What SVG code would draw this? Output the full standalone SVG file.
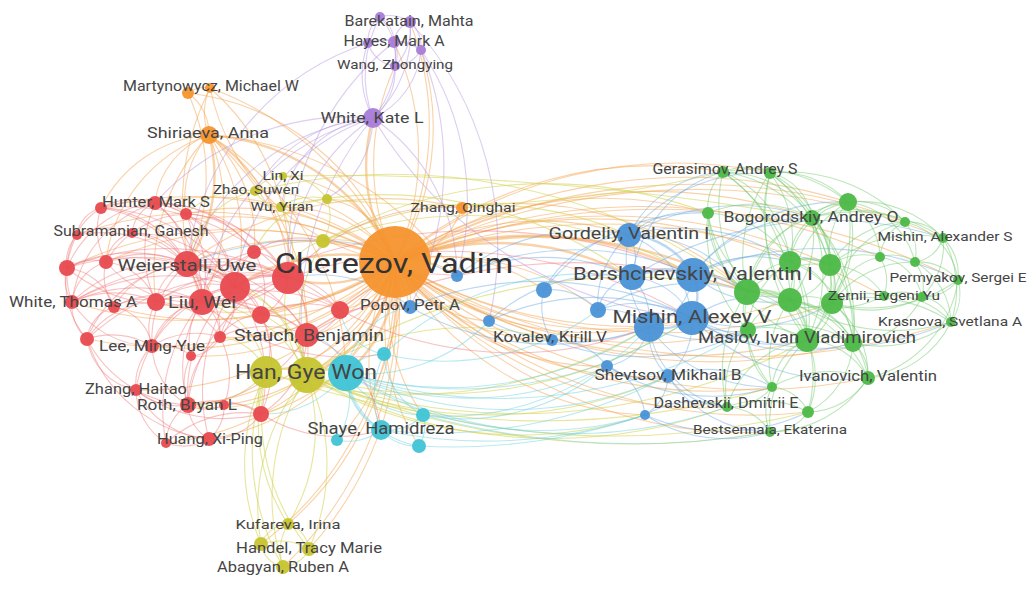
<svg xmlns="http://www.w3.org/2000/svg" width="1036" height="591" viewBox="0 0 1036 591">
<style>
path{fill:none;stroke-width:1.1}
.w{stroke-width:2.4}
.o{stroke:#f6a552;stroke-opacity:.5}
.r{stroke:#f07878;stroke-opacity:.45}
.g{stroke:#6cc868;stroke-opacity:.45}
.b{stroke:#6aa8e0;stroke-opacity:.45}
.y{stroke:#d2d24c;stroke-opacity:.55}
.p{stroke:#b99be3;stroke-opacity:.5}
.c{stroke:#66d0de;stroke-opacity:.45}
.nr{fill:#e84a4f}.ng{fill:#4cb947}.nb{fill:#4a92d6}.ny{fill:#c6c42f}.np{fill:#a87cd8}.nc{fill:#3fc4d6}.no{fill:#f5932e}
circle{fill-opacity:.95}
text{font-family:Roboto,"Liberation Sans",sans-serif;fill:#454545;text-anchor:middle}
#n-cherezov text{fill:#333}
</style>
<rect width="1036" height="591" fill="#fff"/>
<g id="connectors">
<path class="o w" d="M395 262A128 128 0 0 1 288 278"/>
<path class="o w" d="M395 262A192 192 0 0 0 235 287"/>
<path class="o" d="M395 262A250 250 0 0 0 187 264"/>
<path class="o" d="M395 262A232 232 0 0 1 202 302"/>
<path class="o" d="M395 262A169 169 0 0 0 254 252"/>
<path class="o" d="M395 262A161 161 0 0 1 261 315"/>
<path class="o" d="M395 262A66 66 0 0 1 340 310"/>
<path class="o" d="M395 262A106 106 0 0 1 307 335"/>
<path class="o" d="M395 262A287 287 0 0 1 156 302"/>
<path class="o" d="M395 262A347 347 0 0 0 106 262"/>
<path class="o" d="M395 262A288 288 0 0 0 155 203"/>
<path class="o" d="M395 262A251 251 0 0 0 186 214"/>
<path class="o" d="M395 262A353 353 0 0 0 101 208"/>
<path class="o" d="M395 262A394 394 0 0 0 67 268"/>
<path class="o" d="M395 262A388 388 0 0 1 72 302"/>
<path class="o" d="M395 262A292 292 0 0 1 152 346"/>
<path class="o" d="M395 262A248 248 0 0 1 188 405"/>
<path class="o" d="M395 262A182 182 0 0 1 261 414"/>
<path class="o" d="M395 262A223 223 0 0 1 209 439"/>
<path class="o" d="M395 262A311 311 0 0 1 136 390"/>
<path class="o" d="M395 262A370 370 0 0 1 87 339"/>
<path class="o" d="M395 262A337 337 0 0 1 114 307"/>
<path class="o" d="M395 262A210 210 0 0 1 220 337"/>
<path class="o" d="M395 262A316 316 0 0 0 132 233"/>
<path class="o" d="M395 262A382 382 0 0 0 77 235"/>
<path class="o" d="M395 262A245 245 0 0 1 191 356"/>
<path class="o" d="M395 262A205 205 0 0 1 224 405"/>
<path class="o" d="M395 262A275 275 0 0 1 166 443"/>
<path class="o w" d="M395 262A223 223 0 0 0 209 135"/>
<path class="o" d="M395 262A248 248 0 0 0 188 93"/>
<path class="o" d="M395 262A222 222 0 0 1 210 88"/>
<path class="o" d="M395 262A80 80 0 0 0 462 208"/>
<path class="o" d="M395 262A155 155 0 0 1 266 372"/>
<path class="o w" d="M395 262A136 136 0 0 1 307 375"/>
<path class="o" d="M395 262A314 314 0 0 1 288 524"/>
<path class="o" d="M395 262A338 338 0 0 1 261 544"/>
<path class="o" d="M395 262A344 344 0 0 1 309 549"/>
<path class="o" d="M395 262A366 366 0 0 1 283 567"/>
<path class="o" d="M395 262A168 168 0 0 0 255 191"/>
<path class="o" d="M395 262A137 137 0 0 0 281 207"/>
<path class="o" d="M395 262A134 134 0 0 0 283 176"/>
<path class="o" d="M395 262A82 82 0 0 0 327 199"/>
<path class="o" d="M395 262A86 86 0 0 0 323 241"/>
<path class="o w" d="M395 262A133 133 0 0 1 346 373"/>
<path class="o" d="M395 262A110 110 0 0 1 384 354"/>
<path class="o" d="M395 262A202 202 0 0 0 381 430"/>
<path class="o" d="M395 262A214 214 0 0 1 337 440"/>
<path class="o" d="M395 262A184 184 0 0 0 423 415"/>
<path class="o" d="M395 262A221 221 0 0 0 419 446"/>
<path class="o" d="M395 262A281 281 0 0 1 629 235"/>
<path class="o w" d="M395 262A284 284 0 0 1 632 277"/>
<path class="o w" d="M395 262A358 358 0 0 1 693 275"/>
<path class="o" d="M395 262A356 356 0 0 0 692 318"/>
<path class="o" d="M395 262A305 305 0 0 0 649 327"/>
<path class="o" d="M395 262A244 244 0 0 1 598 310"/>
<path class="o" d="M395 262A179 179 0 0 1 544 290"/>
<path class="o" d="M395 262A188 188 0 0 0 552 340"/>
<path class="o" d="M395 262A254 254 0 0 0 607 366"/>
<path class="o" d="M395 262A328 328 0 0 0 668 376"/>
<path class="o" d="M395 262A300 300 0 0 0 645 415"/>
<path class="o" d="M395 262A74 74 0 0 1 457 276"/>
<path class="o" d="M395 262A54 54 0 0 1 410 307"/>
<path class="o" d="M395 262A113 113 0 0 0 489 321"/>
<path class="o" d="M395 262A394 394 0 0 1 723 172"/>
<path class="o" d="M395 262A450 450 0 0 1 770 173"/>
<path class="o" d="M395 262A544 544 0 0 1 848 202"/>
<path class="o" d="M395 262A376 376 0 0 1 708 213"/>
<path class="o" d="M395 262A500 500 0 0 1 812 218"/>
<path class="o" d="M395 262A612 612 0 0 1 905 222"/>
<path class="o" d="M395 262A658 658 0 0 1 943 238"/>
<path class="o" d="M395 262A474 474 0 0 1 790 262"/>
<path class="o" d="M395 262A522 522 0 0 1 830 265"/>
<path class="o w" d="M395 262A422 422 0 0 1 747 292"/>
<path class="o" d="M395 262A474 474 0 0 0 790 300"/>
<path class="o" d="M395 262A524 524 0 0 0 832 303"/>
<path class="o" d="M395 262A676 676 0 0 1 958 280"/>
<path class="o" d="M395 262A667 667 0 0 0 951 322"/>
<path class="o" d="M395 262A424 424 0 0 0 748 330"/>
<path class="o" d="M395 262A494 494 0 0 0 807 340"/>
<path class="o" d="M395 262A550 550 0 0 0 853 343"/>
<path class="o" d="M395 262A568 568 0 0 0 868 378"/>
<path class="o" d="M395 262A452 452 0 0 0 772 387"/>
<path class="o" d="M395 262A398 398 0 0 0 727 407"/>
<path class="o" d="M395 262A496 496 0 0 0 808 412"/>
<path class="o" d="M395 262A450 450 0 0 0 770 432"/>
<path class="o" d="M395 262A587 587 0 0 1 884 296"/>
<path class="o" d="M395 262A582 582 0 0 1 880 257"/>
<path class="o w" d="M395 262A173 173 0 0 1 373 118"/>
<path class="o" d="M395 262A264 264 0 0 0 394 42"/>
<path class="o" d="M395 262A254 254 0 0 0 421 50"/>
<path class="o" d="M395 262A288 288 0 0 0 410 22"/>
<path class="o" d="M395 262A235 235 0 0 1 395 66"/>
<path class="o" d="M209 135A50 50 0 0 0 188 93"/>
<path class="o" d="M209 135A56 56 0 0 1 210 88"/>
<path class="o" d="M209 135A130 130 0 0 0 101 208"/>
<path class="o" d="M209 135A82 82 0 0 0 155 203"/>
<path class="o" d="M209 135A95 95 0 0 0 186 214"/>
<path class="o w" d="M209 135A155 155 0 0 1 187 264"/>
<path class="o" d="M209 135A182 182 0 0 1 235 287"/>
<path class="o" d="M209 135A172 172 0 0 1 288 278"/>
<path class="o" d="M209 135A200 200 0 0 1 202 302"/>
<path class="o" d="M209 135A200 200 0 0 0 156 302"/>
<path class="o" d="M209 135A152 152 0 0 0 106 262"/>
<path class="o" d="M209 135A140 140 0 0 1 254 252"/>
<path class="o" d="M209 135A240 240 0 0 1 307 335"/>
<path class="o" d="M209 135A288 288 0 0 1 307 375"/>
<path class="o" d="M209 135A286 286 0 0 1 346 373"/>
<path class="o" d="M209 135A330 330 0 0 1 457 276"/>
<path class="o" d="M188 93A30 30 0 0 1 210 88"/>
<path class="o" d="M188 93A205 205 0 0 1 187 264"/>
<path class="o" d="M210 88A228 228 0 0 1 288 278"/>
<path class="o" d="M210 88A257 257 0 0 0 202 302"/>
<path class="o" d="M210 88A320 320 0 0 1 410 307"/>
<path class="o" d="M462 208A330 330 0 0 0 187 264"/>
<path class="o" d="M462 208A342 342 0 0 1 747 292"/>
<path class="p" d="M380 17A36 36 0 0 1 410 22"/>
<path class="p" d="M380 17A30 30 0 0 1 394 42"/>
<path class="p" d="M380 17A31 31 0 0 0 368 43"/>
<path class="p" d="M380 17A59 59 0 0 1 395 66"/>
<path class="p" d="M410 22A24 24 0 0 0 394 42"/>
<path class="p" d="M410 22A34 34 0 0 1 421 50"/>
<path class="p" d="M410 22A53 53 0 0 1 395 66"/>
<path class="p" d="M368 43A31 31 0 0 1 394 42"/>
<path class="p" d="M368 43A32 32 0 0 0 395 66"/>
<path class="p" d="M394 42A32 32 0 0 1 421 50"/>
<path class="p" d="M394 42A29 29 0 0 1 395 66"/>
<path class="p" d="M421 50A31 31 0 0 1 395 66"/>
<path class="p" d="M368 43A64 64 0 0 1 421 50"/>
<path class="p" d="M373 118A121 121 0 0 1 380 17"/>
<path class="p" d="M373 118A115 115 0 0 0 410 22"/>
<path class="p" d="M373 118A90 90 0 0 1 368 43"/>
<path class="p" d="M373 118A91 91 0 0 0 394 42"/>
<path class="p" d="M373 118A82 82 0 0 0 421 50"/>
<path class="p" d="M373 118A62 62 0 0 0 395 66"/>
<path class="p" d="M373 118A223 223 0 0 0 187 264"/>
<path class="p" d="M373 118A192 192 0 0 0 288 278"/>
<path class="p" d="M373 118A221 221 0 0 0 202 302"/>
<path class="p" d="M373 118A203 203 0 0 0 235 287"/>
<path class="p" d="M373 118A262 262 0 0 0 155 203"/>
<path class="p" d="M373 118A142 142 0 0 0 255 191"/>
<path class="p" d="M373 118A107 107 0 0 0 281 207"/>
<path class="p" d="M373 118A97 97 0 0 1 327 199"/>
<path class="p" d="M373 118A190 190 0 0 1 457 276"/>
<path class="p" d="M373 118A308 308 0 0 0 307 375"/>
<path class="p" d="M421 50A271 271 0 0 1 457 276"/>
<path class="p" d="M394 42A283 283 0 0 0 288 278"/>
<path class="p" d="M368 43A265 265 0 0 0 187 264"/>
<path class="p" d="M421 50A308 308 0 0 1 410 307"/>
<path class="p" d="M410 22A330 330 0 0 1 489 321"/>
<path class="p" d="M373 118A420 420 0 0 0 692 318"/>
<path class="y w" d="M266 372A49 49 0 0 1 307 375"/>
<path class="y" d="M266 372A182 182 0 0 0 288 524"/>
<path class="y" d="M266 372A206 206 0 0 0 261 544"/>
<path class="y" d="M266 372A212 212 0 0 0 309 549"/>
<path class="y" d="M266 372A234 234 0 0 0 283 567"/>
<path class="y" d="M307 375A179 179 0 0 1 288 524"/>
<path class="y" d="M307 375A203 203 0 0 0 261 544"/>
<path class="y" d="M307 375A209 209 0 0 1 309 549"/>
<path class="y" d="M307 375A230 230 0 0 0 283 567"/>
<path class="y" d="M288 524A32 32 0 0 0 261 544"/>
<path class="y" d="M288 524A30 30 0 0 1 309 549"/>
<path class="y" d="M288 524A52 52 0 0 0 283 567"/>
<path class="y" d="M261 544A28 28 0 0 0 283 567"/>
<path class="y" d="M309 549A31 31 0 0 1 283 567"/>
<path class="y" d="M261 544A58 58 0 0 1 309 549"/>
<path class="y w" d="M307 375A47 47 0 0 1 346 373"/>
<path class="y" d="M307 375A48 48 0 0 1 307 335"/>
<path class="y" d="M307 375A72 72 0 0 0 261 315"/>
<path class="y" d="M307 375A106 106 0 0 0 235 287"/>
<path class="y" d="M307 375A116 116 0 0 1 288 278"/>
<path class="y" d="M307 375A126 126 0 0 0 202 302"/>
<path class="y" d="M307 375A55 55 0 0 1 261 414"/>
<path class="y" d="M307 375A143 143 0 0 1 188 405"/>
<path class="y" d="M307 375A144 144 0 0 0 187 264"/>
<path class="y" d="M266 372A55 55 0 0 0 220 337"/>
<path class="y" d="M266 372A50 50 0 0 0 261 414"/>
<path class="y" d="M266 372A94 94 0 0 1 188 405"/>
<path class="y" d="M266 372A84 84 0 0 0 202 302"/>
<path class="y" d="M307 375A294 294 0 0 1 552 340"/>
<path class="y" d="M307 375A433 433 0 0 0 668 376"/>
<path class="y" d="M307 375A406 406 0 0 0 645 415"/>
<path class="y" d="M307 375A800 800 0 0 0 770 432"/>
<path class="y" d="M307 375A504 504 0 0 0 727 407"/>
<path class="y" d="M307 375A600 600 0 0 0 807 340"/>
<path class="y" d="M307 375A462 462 0 0 0 692 318"/>
<path class="y" d="M307 375A580 580 0 0 1 790 300"/>
<path class="y" d="M266 372A460 460 0 0 0 649 327"/>
<path class="y" d="M266 372A800 800 0 0 0 772 387"/>
<path class="y" d="M307 375A800 800 0 0 0 808 412"/>
<path class="y" d="M323 241A367 367 0 0 1 629 235"/>
<path class="y" d="M323 241A462 462 0 0 1 708 213"/>
<path class="y" d="M323 241A444 444 0 0 1 693 275"/>
<path class="y" d="M327 199A1200 1200 0 0 0 723 172"/>
<path class="y" d="M281 207A421 421 0 0 1 632 277"/>
<path class="y" d="M255 191A590 590 0 0 1 747 292"/>
<path class="y" d="M283 176A2700 2700 0 0 1 812 218"/>
<path class="y" d="M255 191A34 34 0 0 1 283 176"/>
<path class="y" d="M255 191A31 31 0 0 0 281 207"/>
<path class="y" d="M283 176A37 37 0 0 1 281 207"/>
<path class="y" d="M281 207A55 55 0 0 1 327 199"/>
<path class="y" d="M255 191A88 88 0 0 0 187 264"/>
<path class="y" d="M281 207A85 85 0 0 1 288 278"/>
<path class="y" d="M327 199A50 50 0 0 1 323 241"/>
<path class="y" d="M323 241A44 44 0 0 0 288 278"/>
<path class="y" d="M283 176A53 53 0 0 1 327 199"/>
<path class="y" d="M255 191A83 83 0 0 0 186 214"/>
<path class="y" d="M323 241A161 161 0 0 0 307 375"/>
<path class="y" d="M327 199A88 88 0 0 0 254 252"/>
<path class="c" d="M346 373A46 46 0 0 1 384 354"/>
<path class="c w" d="M346 373A68 68 0 0 0 381 430"/>
<path class="c" d="M346 373A80 80 0 0 1 337 440"/>
<path class="c" d="M346 373A92 92 0 0 0 423 415"/>
<path class="c" d="M346 373A88 88 0 0 0 419 446"/>
<path class="c" d="M381 430A53 53 0 0 1 337 440"/>
<path class="c" d="M381 430A50 50 0 0 0 423 415"/>
<path class="c" d="M381 430A46 46 0 0 0 419 446"/>
<path class="c" d="M423 415A37 37 0 0 1 419 446"/>
<path class="c" d="M384 354A73 73 0 0 0 423 415"/>
<path class="c" d="M384 354A91 91 0 0 0 381 430"/>
<path class="c" d="M346 373A47 47 0 0 0 307 335"/>
<path class="c" d="M346 373A79 79 0 0 1 410 307"/>
<path class="c" d="M346 373A172 172 0 0 0 489 321"/>
<path class="c" d="M346 373A313 313 0 0 0 607 366"/>
<path class="c" d="M346 373A386 386 0 0 0 668 376"/>
<path class="c" d="M346 373A359 359 0 0 0 645 415"/>
<path class="c" d="M346 373A364 364 0 0 0 649 327"/>
<path class="c" d="M346 373A415 415 0 0 0 692 318"/>
<path class="c" d="M346 373A482 482 0 0 0 748 330"/>
<path class="c" d="M346 373A457 457 0 0 0 727 407"/>
<path class="c" d="M381 430A500 500 0 0 0 668 376"/>
<path class="c" d="M381 430A500 500 0 0 0 645 415"/>
<path class="c" d="M423 415A221 221 0 0 0 607 366"/>
<path class="c" d="M423 415A271 271 0 0 0 649 327"/>
<path class="c" d="M384 354A257 257 0 0 0 598 310"/>
<path class="c" d="M419 446A600 600 0 0 0 645 415"/>
<path class="c" d="M423 415A800 800 0 0 0 770 432"/>
<path class="c" d="M384 354A298 298 0 0 1 632 277"/>
<path class="c" d="M346 373A102 102 0 0 1 261 414"/>
<path class="c" d="M384 354A53 53 0 0 1 340 310"/>
<path class="b" d="M629 235A50 50 0 0 1 632 277"/>
<path class="b w" d="M629 235A77 77 0 0 1 693 275"/>
<path class="b" d="M629 235A100 100 0 0 1 692 318"/>
<path class="b" d="M629 235A110 110 0 0 0 649 327"/>
<path class="b" d="M629 235A90 90 0 0 0 598 310"/>
<path class="b" d="M629 235A102 102 0 0 0 544 290"/>
<path class="b w" d="M632 277A73 73 0 0 1 693 275"/>
<path class="b" d="M632 277A72 72 0 0 1 692 318"/>
<path class="b" d="M632 277A60 60 0 0 1 649 327"/>
<path class="b" d="M632 277A41 41 0 0 0 598 310"/>
<path class="b w" d="M693 275A52 52 0 0 1 692 318"/>
<path class="b" d="M693 275A62 62 0 0 1 649 327"/>
<path class="b w" d="M692 318A52 52 0 0 1 649 327"/>
<path class="b" d="M692 318A113 113 0 0 0 598 310"/>
<path class="b" d="M649 327A61 61 0 0 0 598 310"/>
<path class="b" d="M649 327A50 50 0 0 1 607 366"/>
<path class="b" d="M649 327A59 59 0 0 0 668 376"/>
<path class="b" d="M692 318A70 70 0 0 1 668 376"/>
<path class="b" d="M668 376A47 47 0 0 1 645 415"/>
<path class="b" d="M607 366A73 73 0 0 0 668 376"/>
<path class="b" d="M607 366A59 59 0 0 1 645 415"/>
<path class="b" d="M544 290A65 65 0 0 1 598 310"/>
<path class="b" d="M544 290A60 60 0 0 0 552 340"/>
<path class="b" d="M552 340A66 66 0 0 1 607 366"/>
<path class="b" d="M457 276A210 210 0 0 1 632 277"/>
<path class="b" d="M457 276A283 283 0 0 1 693 275"/>
<path class="b" d="M410 307A338 338 0 0 1 692 318"/>
<path class="b" d="M410 307A287 287 0 0 0 649 327"/>
<path class="b" d="M489 321A192 192 0 0 0 649 327"/>
<path class="b" d="M489 321A172 172 0 0 1 632 277"/>
<path class="b" d="M489 321A244 244 0 0 1 692 318"/>
<path class="b" d="M457 276A206 206 0 0 1 629 235"/>
<path class="b" d="M629 235A113 113 0 0 1 723 172"/>
<path class="b" d="M629 235A169 169 0 0 1 770 173"/>
<path class="b" d="M629 235A95 95 0 0 1 708 213"/>
<path class="b" d="M629 235A220 220 0 0 1 812 218"/>
<path class="b" d="M629 235A142 142 0 0 1 747 292"/>
<path class="b" d="M629 235A193 193 0 0 1 790 262"/>
<path class="b" d="M693 275A65 65 0 0 1 747 292"/>
<path class="b" d="M693 275A116 116 0 0 1 790 262"/>
<path class="b" d="M693 275A116 116 0 0 0 790 300"/>
<path class="b" d="M693 275A143 143 0 0 1 812 218"/>
<path class="b" d="M693 275A186 186 0 0 1 848 202"/>
<path class="b" d="M693 275A164 164 0 0 1 830 265"/>
<path class="b" d="M692 318A67 67 0 0 0 748 330"/>
<path class="b" d="M692 318A138 138 0 0 0 807 340"/>
<path class="b" d="M692 318A118 118 0 0 1 790 300"/>
<path class="b" d="M692 318A168 168 0 0 0 832 303"/>
<path class="b" d="M692 318A193 193 0 0 0 853 343"/>
<path class="b" d="M649 327A119 119 0 0 0 748 330"/>
<path class="b" d="M649 327A148 148 0 0 0 772 387"/>
<path class="b" d="M649 327A96 96 0 0 0 727 407"/>
<path class="b" d="M668 376A71 71 0 0 0 727 407"/>
<path class="b" d="M668 376A125 125 0 0 1 772 387"/>
<path class="b" d="M668 376A122 122 0 0 0 770 432"/>
<path class="b" d="M645 415A98 98 0 0 1 727 407"/>
<path class="b" d="M645 415A150 150 0 0 0 770 432"/>
<path class="b" d="M645 415A196 196 0 0 0 808 412"/>
<path class="b" d="M632 277A138 138 0 0 1 747 292"/>
<path class="b" d="M632 277A126 126 0 0 1 723 172"/>
<path class="b" d="M632 277A373 373 0 0 1 943 238"/>
<path class="b" d="M693 275A318 318 0 0 1 958 280"/>
<path class="b" d="M692 318A311 311 0 0 0 951 322"/>
<path class="b" d="M598 310A179 179 0 0 1 747 292"/>
<path class="b" d="M544 290A197 197 0 0 1 708 213"/>
<path class="b" d="M552 340A235 235 0 0 0 748 330"/>
<path class="b" d="M607 366A198 198 0 0 0 772 387"/>
<path class="b" d="M692 318A211 211 0 0 0 868 378"/>
<path class="b" d="M410 307A146 146 0 0 0 288 278"/>
<path class="b" d="M457 276A324 324 0 0 0 187 264"/>
<path class="g" d="M723 172A56 56 0 0 1 770 173"/>
<path class="g" d="M723 172A49 49 0 0 0 708 213"/>
<path class="g" d="M723 172A107 107 0 0 1 812 218"/>
<path class="g" d="M723 172A108 108 0 0 1 790 262"/>
<path class="g" d="M723 172A144 144 0 0 0 747 292"/>
<path class="g" d="M723 172A154 154 0 0 1 790 300"/>
<path class="g" d="M723 172A128 128 0 0 1 830 265"/>
<path class="g" d="M723 172A202 202 0 0 1 807 340"/>
<path class="g" d="M723 172A150 150 0 0 1 848 202"/>
<path class="g" d="M770 173A94 94 0 0 1 848 202"/>
<path class="g" d="M770 173A54 54 0 0 1 812 218"/>
<path class="g" d="M770 173A107 107 0 0 1 790 262"/>
<path class="g" d="M770 173A110 110 0 0 1 830 265"/>
<path class="g" d="M770 173A143 143 0 0 0 747 292"/>
<path class="g" d="M770 173A152 152 0 0 0 790 300"/>
<path class="g" d="M770 173A156 156 0 0 1 832 303"/>
<path class="g" d="M770 173A200 200 0 0 0 807 340"/>
<path class="g" d="M770 173A162 162 0 0 1 905 222"/>
<path class="g" d="M770 173A204 204 0 0 1 853 343"/>
<path class="g" d="M848 202A43 43 0 0 0 812 218"/>
<path class="g" d="M848 202A68 68 0 0 1 905 222"/>
<path class="g" d="M848 202A114 114 0 0 1 943 238"/>
<path class="g" d="M848 202A72 72 0 0 0 790 262"/>
<path class="g" d="M848 202A76 76 0 0 0 830 265"/>
<path class="g" d="M848 202A118 118 0 0 0 790 300"/>
<path class="g" d="M848 202A121 121 0 0 1 832 303"/>
<path class="g" d="M848 202A121 121 0 0 0 747 292"/>
<path class="g" d="M848 202A166 166 0 0 1 807 340"/>
<path class="g" d="M848 202A66 66 0 0 1 880 257"/>
<path class="g" d="M848 202A80 80 0 0 1 915 262"/>
<path class="g" d="M708 213A125 125 0 0 1 812 218"/>
<path class="g" d="M708 213A98 98 0 0 1 790 262"/>
<path class="g" d="M708 213A95 95 0 0 0 747 292"/>
<path class="g" d="M708 213A104 104 0 0 0 790 300"/>
<path class="g" d="M708 213A140 140 0 0 0 748 330"/>
<path class="g" d="M708 213A152 152 0 0 0 807 340"/>
<path class="g" d="M812 218A112 112 0 0 1 905 222"/>
<path class="g" d="M812 218A53 53 0 0 0 790 262"/>
<path class="g" d="M812 218A56 56 0 0 1 830 265"/>
<path class="g" d="M812 218A89 89 0 0 0 747 292"/>
<path class="g" d="M812 218A98 98 0 0 1 790 300"/>
<path class="g" d="M812 218A102 102 0 0 1 832 303"/>
<path class="g" d="M812 218A146 146 0 0 1 807 340"/>
<path class="g" d="M812 218A157 157 0 0 1 943 238"/>
<path class="g" d="M812 218A150 150 0 0 1 853 343"/>
<path class="g" d="M905 222A46 46 0 0 1 943 238"/>
<path class="g" d="M905 222A42 42 0 0 0 880 257"/>
<path class="g" d="M905 222A48 48 0 0 1 915 262"/>
<path class="g" d="M905 222A90 90 0 0 0 830 265"/>
<path class="g" d="M905 222A70 70 0 0 1 958 280"/>
<path class="g" d="M905 222A97 97 0 0 0 832 303"/>
<path class="g" d="M943 238A34 34 0 0 1 915 262"/>
<path class="g" d="M943 238A50 50 0 0 1 958 280"/>
<path class="g" d="M943 238A101 101 0 0 1 951 322"/>
<path class="g" d="M943 238A71 71 0 0 1 922 297"/>
<path class="g" d="M943 238A136 136 0 0 0 830 265"/>
<path class="g" d="M880 257A42 42 0 0 1 915 262"/>
<path class="g" d="M880 257A60 60 0 0 0 830 265"/>
<path class="g" d="M880 257A62 62 0 0 0 832 303"/>
<path class="g" d="M880 257A50 50 0 0 1 922 297"/>
<path class="g" d="M880 257A47 47 0 0 1 884 296"/>
<path class="g" d="M915 262A52 52 0 0 1 958 280"/>
<path class="g" d="M915 262A42 42 0 0 1 922 297"/>
<path class="g" d="M915 262A72 72 0 0 1 951 322"/>
<path class="g" d="M915 262A100 100 0 0 0 832 303"/>
<path class="g w" d="M790 262A48 48 0 0 1 830 265"/>
<path class="g" d="M790 262A52 52 0 0 0 747 292"/>
<path class="g" d="M790 262A46 46 0 0 1 790 300"/>
<path class="g" d="M790 262A50 50 0 0 1 832 303"/>
<path class="g" d="M790 262A94 94 0 0 1 807 340"/>
<path class="g" d="M790 262A82 82 0 0 0 748 330"/>
<path class="g" d="M790 262A97 97 0 0 1 853 343"/>
<path class="g" d="M830 265A100 100 0 0 0 747 292"/>
<path class="g" d="M830 265A48 48 0 0 1 790 300"/>
<path class="g" d="M830 265A46 46 0 0 1 832 303"/>
<path class="g" d="M830 265A90 90 0 0 1 807 340"/>
<path class="g" d="M830 265A94 94 0 0 1 853 343"/>
<path class="g" d="M830 265A65 65 0 0 1 884 296"/>
<path class="g w" d="M747 292A52 52 0 0 1 790 300"/>
<path class="g" d="M747 292A102 102 0 0 0 832 303"/>
<path class="g" d="M747 292A46 46 0 0 0 748 330"/>
<path class="g" d="M747 292A72 72 0 0 1 807 340"/>
<path class="g" d="M747 292A127 127 0 0 1 853 343"/>
<path class="g" d="M747 292A114 114 0 0 0 772 387"/>
<path class="g" d="M747 292A138 138 0 0 0 727 407"/>
<path class="g" d="M747 292A145 145 0 0 1 868 378"/>
<path class="g" d="M790 300A50 50 0 0 1 832 303"/>
<path class="g" d="M790 300A50 50 0 0 0 748 330"/>
<path class="g w" d="M790 300A48 48 0 0 1 807 340"/>
<path class="g" d="M790 300A76 76 0 0 1 853 343"/>
<path class="g" d="M790 300A94 94 0 0 1 868 378"/>
<path class="g" d="M790 300A104 104 0 0 0 772 387"/>
<path class="g" d="M790 300A134 134 0 0 1 808 412"/>
<path class="g" d="M790 300A113 113 0 0 0 884 296"/>
<path class="g" d="M790 300A193 193 0 0 0 951 322"/>
<path class="g" d="M832 303A44 44 0 0 1 807 340"/>
<path class="g" d="M832 303A48 48 0 0 1 853 343"/>
<path class="g" d="M832 303A90 90 0 0 1 868 378"/>
<path class="g" d="M832 303A108 108 0 0 0 922 297"/>
<path class="g" d="M832 303A143 143 0 0 1 951 322"/>
<path class="g" d="M832 303A62 62 0 0 1 884 296"/>
<path class="g" d="M832 303A151 151 0 0 0 958 280"/>
<path class="g" d="M958 280A43 43 0 0 1 922 297"/>
<path class="g" d="M958 280A50 50 0 0 1 951 322"/>
<path class="g" d="M922 297A35 35 0 0 1 951 322"/>
<path class="g" d="M922 297A46 46 0 0 0 884 296"/>
<path class="g" d="M884 296A80 80 0 0 1 951 322"/>
<path class="g" d="M951 322A118 118 0 0 1 853 343"/>
<path class="g" d="M951 322A100 100 0 0 1 868 378"/>
<path class="g" d="M748 330A71 71 0 0 1 807 340"/>
<path class="g" d="M748 330A68 68 0 0 0 772 387"/>
<path class="g" d="M748 330A92 92 0 0 0 727 407"/>
<path class="g" d="M748 330A126 126 0 0 1 853 343"/>
<path class="g" d="M807 340A55 55 0 0 1 853 343"/>
<path class="g" d="M807 340A73 73 0 0 1 868 378"/>
<path class="g" d="M807 340A56 56 0 0 0 772 387"/>
<path class="g" d="M807 340A96 96 0 0 0 727 407"/>
<path class="g" d="M807 340A86 86 0 0 1 808 412"/>
<path class="g" d="M807 340A110 110 0 0 0 770 432"/>
<path class="g" d="M853 343A42 42 0 0 1 868 378"/>
<path class="g" d="M853 343A83 83 0 0 1 808 412"/>
<path class="g" d="M853 343A83 83 0 0 0 922 297"/>
<path class="g" d="M868 378A72 72 0 0 1 808 412"/>
<path class="g" d="M868 378A118 118 0 0 1 770 432"/>
<path class="g" d="M868 378A115 115 0 0 0 772 387"/>
<path class="g" d="M772 387A54 54 0 0 1 727 407"/>
<path class="g" d="M772 387A43 43 0 0 1 808 412"/>
<path class="g" d="M772 387A54 54 0 0 0 770 432"/>
<path class="g" d="M727 407A52 52 0 0 1 770 432"/>
<path class="g" d="M808 412A46 46 0 0 1 770 432"/>
<path class="g" d="M727 407A97 97 0 0 1 808 412"/>
<path class="g" d="M868 378A118 118 0 0 0 958 280"/>
<path class="r" d="M101 208A65 65 0 0 1 155 203"/>
<path class="r" d="M101 208A102 102 0 0 1 186 214"/>
<path class="r" d="M101 208A32 32 0 0 0 77 235"/>
<path class="r" d="M101 208A72 72 0 0 0 67 268"/>
<path class="r" d="M101 208A103 103 0 0 1 187 264"/>
<path class="r" d="M101 208A161 161 0 0 1 235 287"/>
<path class="r" d="M101 208A121 121 0 0 1 202 302"/>
<path class="r" d="M101 208A65 65 0 0 0 106 262"/>
<path class="r" d="M101 208A224 224 0 0 1 288 278"/>
<path class="r" d="M155 203A37 37 0 0 1 186 214"/>
<path class="r" d="M155 203A73 73 0 0 1 187 264"/>
<path class="r" d="M155 203A101 101 0 0 1 235 287"/>
<path class="r" d="M155 203A160 160 0 0 1 288 278"/>
<path class="r" d="M155 203A119 119 0 0 1 202 302"/>
<path class="r" d="M155 203A36 36 0 0 0 132 233"/>
<path class="r" d="M155 203A106 106 0 0 0 67 268"/>
<path class="r" d="M155 203A119 119 0 0 0 156 302"/>
<path class="r" d="M155 203A119 119 0 0 0 72 302"/>
<path class="r" d="M155 203A119 119 0 0 1 254 252"/>
<path class="r" d="M186 214A60 60 0 0 1 187 264"/>
<path class="r" d="M186 214A88 88 0 0 1 235 287"/>
<path class="r" d="M186 214A122 122 0 0 1 288 278"/>
<path class="r" d="M186 214A106 106 0 0 1 202 302"/>
<path class="r" d="M186 214A82 82 0 0 1 254 252"/>
<path class="r" d="M186 214A96 96 0 0 0 106 262"/>
<path class="r" d="M77 235A66 66 0 0 1 132 233"/>
<path class="r" d="M77 235A40 40 0 0 0 67 268"/>
<path class="r" d="M77 235A132 132 0 0 1 187 264"/>
<path class="r" d="M77 235A80 80 0 0 0 72 302"/>
<path class="r" d="M132 233A66 66 0 0 1 187 264"/>
<path class="r" d="M132 233A35 35 0 0 0 106 262"/>
<path class="r" d="M132 233A84 84 0 0 1 202 302"/>
<path class="r" d="M132 233A124 124 0 0 1 235 287"/>
<path class="r" d="M67 268A47 47 0 0 1 106 262"/>
<path class="r" d="M67 268A144 144 0 0 1 187 264"/>
<path class="r" d="M67 268A41 41 0 0 0 72 302"/>
<path class="r" d="M67 268A202 202 0 0 1 235 287"/>
<path class="r" d="M67 268A162 162 0 0 0 202 302"/>
<path class="r" d="M67 268A265 265 0 0 1 288 278"/>
<path class="r" d="M67 268A85 85 0 0 0 87 339"/>
<path class="r" d="M67 268A56 56 0 0 1 114 307"/>
<path class="r" d="M106 262A97 97 0 0 1 187 264"/>
<path class="r" d="M106 262A155 155 0 0 1 235 287"/>
<path class="r" d="M106 262A48 48 0 0 0 72 302"/>
<path class="r" d="M106 262A60 60 0 0 1 156 302"/>
<path class="r" d="M106 262A115 115 0 0 0 202 302"/>
<path class="r" d="M106 262A54 54 0 0 0 114 307"/>
<path class="r" d="M254 252A80 80 0 0 1 187 264"/>
<path class="r" d="M254 252A42 42 0 0 0 235 287"/>
<path class="r" d="M254 252A41 41 0 0 1 288 278"/>
<path class="r" d="M254 252A62 62 0 0 0 202 302"/>
<path class="r" d="M254 252A76 76 0 0 1 261 315"/>
<path class="r w" d="M187 264A58 58 0 0 1 235 287"/>
<path class="r" d="M187 264A121 121 0 0 1 288 278"/>
<path class="r" d="M187 264A138 138 0 0 0 72 302"/>
<path class="r" d="M187 264A46 46 0 0 0 156 302"/>
<path class="r w" d="M187 264A46 46 0 0 1 202 302"/>
<path class="r" d="M187 264A89 89 0 0 1 261 315"/>
<path class="r" d="M187 264A98 98 0 0 0 152 346"/>
<path class="r" d="M187 264A120 120 0 0 0 87 339"/>
<path class="r" d="M187 264A88 88 0 0 0 114 307"/>
<path class="r" d="M187 264A88 88 0 0 1 220 337"/>
<path class="r" d="M187 264A184 184 0 0 1 340 310"/>
<path class="r" d="M187 264A144 144 0 0 1 307 335"/>
<path class="r w" d="M235 287A64 64 0 0 1 288 278"/>
<path class="r" d="M235 287A40 40 0 0 0 202 302"/>
<path class="r" d="M235 287A34 34 0 0 1 261 315"/>
<path class="r" d="M235 287A95 95 0 0 0 156 302"/>
<path class="r" d="M235 287A196 196 0 0 0 72 302"/>
<path class="r" d="M235 287A60 60 0 0 1 220 337"/>
<path class="r" d="M235 287A100 100 0 0 0 152 346"/>
<path class="r" d="M235 287A86 86 0 0 1 307 335"/>
<path class="r" d="M235 287A126 126 0 0 1 340 310"/>
<path class="r" d="M235 287A142 142 0 0 0 188 405"/>
<path class="r" d="M235 287A152 152 0 0 1 261 414"/>
<path class="r" d="M288 278A103 103 0 0 1 202 302"/>
<path class="r" d="M288 278A44 44 0 0 1 261 315"/>
<path class="r" d="M288 278A62 62 0 0 1 340 310"/>
<path class="r" d="M288 278A68 68 0 0 1 307 335"/>
<path class="r" d="M288 278A158 158 0 0 0 156 302"/>
<path class="r" d="M288 278A82 82 0 0 0 220 337"/>
<path class="r" d="M288 278A259 259 0 0 0 72 302"/>
<path class="r" d="M288 278A241 241 0 0 0 87 339"/>
<path class="r" d="M72 302A50 50 0 0 1 114 307"/>
<path class="r" d="M72 302A101 101 0 0 1 156 302"/>
<path class="r" d="M72 302A156 156 0 0 1 202 302"/>
<path class="r" d="M72 302A44 44 0 0 0 87 339"/>
<path class="r" d="M72 302A96 96 0 0 0 152 346"/>
<path class="r" d="M114 307A50 50 0 0 1 156 302"/>
<path class="r" d="M114 307A106 106 0 0 1 202 302"/>
<path class="r" d="M114 307A38 38 0 0 0 87 339"/>
<path class="r" d="M114 307A47 47 0 0 1 152 346"/>
<path class="r" d="M156 302A55 55 0 0 1 202 302"/>
<path class="r" d="M156 302A53 53 0 0 0 152 346"/>
<path class="r" d="M156 302A126 126 0 0 1 261 315"/>
<path class="r" d="M156 302A77 77 0 0 1 220 337"/>
<path class="r" d="M156 302A83 83 0 0 0 87 339"/>
<path class="r" d="M202 302A71 71 0 0 1 261 315"/>
<path class="r" d="M202 302A42 42 0 0 1 220 337"/>
<path class="r" d="M202 302A60 60 0 0 0 152 346"/>
<path class="r" d="M202 302A65 65 0 0 0 191 356"/>
<path class="r" d="M202 302A126 126 0 0 1 307 335"/>
<path class="r" d="M202 302A124 124 0 0 0 188 405"/>
<path class="r" d="M202 302A166 166 0 0 1 340 310"/>
<path class="r" d="M261 315A55 55 0 0 1 307 335"/>
<path class="r" d="M261 315A95 95 0 0 1 340 310"/>
<path class="r" d="M261 315A49 49 0 0 0 220 337"/>
<path class="r" d="M261 315A119 119 0 0 1 261 414"/>
<path class="r" d="M340 310A40 40 0 0 1 307 335"/>
<path class="r" d="M87 339A78 78 0 0 1 152 346"/>
<path class="r" d="M87 339A61 61 0 0 0 136 390"/>
<path class="r" d="M87 339A121 121 0 0 0 188 405"/>
<path class="r" d="M152 346A47 47 0 0 1 191 356"/>
<path class="r" d="M152 346A53 53 0 0 0 136 390"/>
<path class="r" d="M152 346A71 71 0 0 0 188 405"/>
<path class="r" d="M152 346A82 82 0 0 1 220 337"/>
<path class="r" d="M220 337A35 35 0 0 1 191 356"/>
<path class="r" d="M220 337A82 82 0 0 0 188 405"/>
<path class="r" d="M220 337A82 82 0 0 1 224 405"/>
<path class="r" d="M220 337A104 104 0 0 1 307 335"/>
<path class="r" d="M191 356A59 59 0 0 0 188 405"/>
<path class="r" d="M307 335A95 95 0 0 1 261 414"/>
<path class="r" d="M307 335A143 143 0 0 1 188 405"/>
<path class="r" d="M136 390A62 62 0 0 0 188 405"/>
<path class="r" d="M136 390A88 88 0 0 0 209 439"/>
<path class="r" d="M136 390A64 64 0 0 0 166 443"/>
<path class="r" d="M188 405A43 43 0 0 0 224 405"/>
<path class="r" d="M188 405A41 41 0 0 0 209 439"/>
<path class="r" d="M188 405A88 88 0 0 1 261 414"/>
<path class="r" d="M188 405A46 46 0 0 0 166 443"/>
<path class="r" d="M224 405A41 41 0 0 1 209 439"/>
<path class="r" d="M224 405A44 44 0 0 1 261 414"/>
<path class="r" d="M261 414A62 62 0 0 1 209 439"/>
<path class="r" d="M209 439A52 52 0 0 1 166 443"/>
<path class="r" d="M136 390A150 150 0 0 0 261 414"/>
<path class="r" d="M87 339A146 146 0 0 0 209 439"/>
<path class="r" d="M166 443A114 114 0 0 1 261 414"/>
<path class="r" d="M166 443A169 169 0 0 1 202 302"/>
<path class="r" d="M209 439A182 182 0 0 1 235 287"/>
<path class="r" d="M188 405A152 152 0 0 1 288 278"/>
<path class="r" d="M136 390A124 124 0 0 1 235 287"/>
<path class="r" d="M288 278A485 485 0 0 1 692 318"/>
<path class="r" d="M340 310A371 371 0 0 0 649 327"/>
<path class="r" d="M307 335A528 528 0 0 1 747 292"/>
<path class="r" d="M235 287A550 550 0 0 1 693 275"/>
<path class="r" d="M261 315A68 68 0 0 1 266 372"/>
<path class="r" d="M261 414A144 144 0 0 0 381 430"/>
<path class="r" d="M307 335A124 124 0 0 1 410 307"/>
<path class="r" d="M340 310A140 140 0 0 1 457 276"/>
<path class="r" d="M288 278A209 209 0 0 1 462 208"/>
<path class="r" d="M254 252A83 83 0 0 1 323 241"/>
<path class="r" d="M202 302A218 218 0 0 0 384 354"/>
<path class="r" d="M307 335A114 114 0 0 1 381 430"/>
</g>
<g id="n-r1"><circle class="nr" cx="101" cy="208" r="6"/></g>
<g id="n-r3"><circle class="nr" cx="186" cy="214" r="6"/></g>
<g id="n-r4"><circle class="nr" cx="77" cy="235" r="5"/></g>
<g id="n-r6"><circle class="nr" cx="67" cy="268" r="8"/></g>
<g id="n-r7"><circle class="nr" cx="106" cy="262" r="7"/></g>
<g id="n-r8"><circle class="nr" cx="254" cy="252" r="7"/></g>
<g id="n-r10"><circle class="nr" cx="235" cy="287" r="15"/></g>
<g id="n-r11"><circle class="nr" cx="288" cy="278" r="16"/></g>
<g id="n-r13"><circle class="nr" cx="114" cy="307" r="6"/></g>
<g id="n-r14"><circle class="nr" cx="156" cy="302" r="9"/></g>
<g id="n-r16"><circle class="nr" cx="261" cy="315" r="9"/></g>
<g id="n-r17"><circle class="nr" cx="340" cy="310" r="9"/></g>
<g id="n-r18"><circle class="nr" cx="87" cy="339" r="7"/></g>
<g id="n-r20"><circle class="nr" cx="220" cy="337" r="6"/></g>
<g id="n-r21"><circle class="nr" cx="191" cy="356" r="5"/></g>
<g id="n-r25"><circle class="nr" cx="224" cy="405" r="5"/></g>
<g id="n-r26"><circle class="nr" cx="261" cy="414" r="8"/></g>
<g id="n-r28"><circle class="nr" cx="166" cy="443" r="5"/></g>
<g id="n-mw1"><circle class="no" cx="188" cy="93" r="6"/></g>
<g id="n-p1"><circle class="np" cx="380" cy="17" r="5"/></g>
<g id="n-p3"><circle class="np" cx="368" cy="43" r="5"/></g>
<g id="n-p5"><circle class="np" cx="421" cy="50" r="5"/></g>
<g id="n-y1"><circle class="ny" cx="266" cy="372" r="16"/></g>
<g id="n-y3"><circle class="ny" cx="327" cy="199" r="5"/></g>
<g id="n-y4"><circle class="ny" cx="323" cy="241" r="7"/></g>
<g id="n-yh1"><circle class="ny" cx="261" cy="544" r="7"/></g>
<g id="n-k1"><circle class="nc" cx="346" cy="373" r="18"/></g>
<g id="n-k2"><circle class="nc" cx="384" cy="354" r="7"/></g>
<g id="n-k3"><circle class="nc" cx="337" cy="440" r="6"/></g>
<g id="n-k4"><circle class="nc" cx="423" cy="415" r="7"/></g>
<g id="n-k5"><circle class="nc" cx="419" cy="446" r="7"/></g>
<g id="n-b2"><circle class="nb" cx="632" cy="277" r="13"/></g>
<g id="n-b5"><circle class="nb" cx="649" cy="327" r="15"/></g>
<g id="n-b6"><circle class="nb" cx="598" cy="310" r="8"/></g>
<g id="n-b7"><circle class="nb" cx="544" cy="290" r="8"/></g>
<g id="n-b9"><circle class="nb" cx="607" cy="366" r="6"/></g>
<g id="n-b11"><circle class="nb" cx="645" cy="415" r="5"/></g>
<g id="n-b12"><circle class="nb" cx="457" cy="276" r="6"/></g>
<g id="n-b14"><circle class="nb" cx="489" cy="321" r="6"/></g>
<g id="n-g2"><circle class="ng" cx="770" cy="173" r="6"/></g>
<g id="n-g3"><circle class="ng" cx="848" cy="202" r="9"/></g>
<g id="n-g4"><circle class="ng" cx="708" cy="213" r="6"/></g>
<g id="n-g6"><circle class="ng" cx="905" cy="222" r="5"/></g>
<g id="n-g8"><circle class="ng" cx="880" cy="257" r="5"/></g>
<g id="n-g9"><circle class="ng" cx="915" cy="262" r="5"/></g>
<g id="n-g10"><circle class="ng" cx="790" cy="262" r="11"/></g>
<g id="n-g11"><circle class="ng" cx="830" cy="265" r="11"/></g>
<g id="n-g12"><circle class="ng" cx="747" cy="292" r="13"/></g>
<g id="n-g13"><circle class="ng" cx="790" cy="300" r="12"/></g>
<g id="n-g14"><circle class="ng" cx="832" cy="303" r="11"/></g>
<g id="n-g16"><circle class="ng" cx="922" cy="297" r="5"/></g>
<g id="n-g18"><circle class="ng" cx="748" cy="330" r="8"/></g>
<g id="n-g20"><circle class="ng" cx="853" cy="343" r="9"/></g>
<g id="n-g22"><circle class="ng" cx="772" cy="387" r="5"/></g>
<g id="n-g24"><circle class="ng" cx="808" cy="412" r="6"/></g>
<g id="n-cherezov"><circle class="no" cx="395" cy="262" r="36"/><text x="394" y="273" font-size="28" textLength="238" lengthAdjust="spacingAndGlyphs">Cherezov, Vadim</text></g>
<g id="n-shiriaeva"><circle class="no" cx="209" cy="135" r="9"/><text x="208" y="138" font-size="15" textLength="122" lengthAdjust="spacingAndGlyphs">Shiriaeva, Anna</text></g>
<g id="n-martynowycz"><circle class="no" cx="210" cy="88" r="5"/><text x="211" y="91" font-size="14" textLength="176" lengthAdjust="spacingAndGlyphs">Martynowycz, Michael W</text></g>
<g id="n-zhang-qinghai"><circle class="no" cx="462" cy="208" r="6"/><text x="463" y="212" font-size="13.5" textLength="105" lengthAdjust="spacingAndGlyphs">Zhang, Qinghai</text></g>
<g id="n-white-kate"><circle class="np" cx="373" cy="118" r="10"/><text x="372" y="123" font-size="15" textLength="103" lengthAdjust="spacingAndGlyphs">White, Kate L</text></g>
<g id="n-barekatain"><circle class="np" cx="410" cy="22" r="6"/><text x="409" y="26" font-size="14" textLength="129" lengthAdjust="spacingAndGlyphs">Barekatain, Mahta</text></g>
<g id="n-hayes"><circle class="np" cx="394" cy="42" r="6"/><text x="394" y="46" font-size="14" textLength="101" lengthAdjust="spacingAndGlyphs">Hayes, Mark A</text></g>
<g id="n-wang"><circle class="np" cx="395" cy="66" r="5"/><text x="395" y="69" font-size="13.5" textLength="116" lengthAdjust="spacingAndGlyphs">Wang, Zhongying</text></g>
<g id="n-lin"><circle class="ny" cx="283" cy="176" r="4"/><text x="283" y="180" font-size="13" textLength="41" lengthAdjust="spacingAndGlyphs">Lin, Xi</text></g>
<g id="n-zhao"><circle class="ny" cx="255" cy="191" r="5"/><text x="256" y="194" font-size="13.5" textLength="86" lengthAdjust="spacingAndGlyphs">Zhao, Suwen</text></g>
<g id="n-wu"><circle class="ny" cx="281" cy="207" r="5"/><text x="282" y="211" font-size="13" textLength="63" lengthAdjust="spacingAndGlyphs">Wu, Yiran</text></g>
<g id="n-hunter"><circle class="nr" cx="155" cy="203" r="7"/><text x="156" y="207" font-size="14" textLength="108" lengthAdjust="spacingAndGlyphs">Hunter, Mark S</text></g>
<g id="n-subramanian"><circle class="nr" cx="132" cy="233" r="5"/><text x="131" y="236" font-size="14.5" textLength="155" lengthAdjust="spacingAndGlyphs">Subramanian, Ganesh</text></g>
<g id="n-weierstall"><circle class="nr" cx="187" cy="264" r="13"/><text x="187" y="271" font-size="17" textLength="139" lengthAdjust="spacingAndGlyphs">Weierstall, Uwe</text></g>
<g id="n-white-thomas"><circle class="nr" cx="72" cy="302" r="7"/><text x="73" y="307" font-size="15.5" textLength="128" lengthAdjust="spacingAndGlyphs">White, Thomas A</text></g>
<g id="n-liu"><circle class="nr" cx="202" cy="302" r="13"/><text x="202" y="308" font-size="17" textLength="68" lengthAdjust="spacingAndGlyphs">Liu, Wei</text></g>
<g id="n-lee"><circle class="nr" cx="152" cy="346" r="7"/><text x="152" y="351" font-size="14.5" textLength="106" lengthAdjust="spacingAndGlyphs">Lee, Ming-Yue</text></g>
<g id="n-stauch"><circle class="nr" cx="307" cy="335" r="12"/><text x="309" y="341" font-size="17" textLength="150" lengthAdjust="spacingAndGlyphs">Stauch, Benjamin</text></g>
<g id="n-zhang-haitao"><circle class="nr" cx="136" cy="390" r="6"/><text x="136" y="394" font-size="14" textLength="102" lengthAdjust="spacingAndGlyphs">Zhang, Haitao</text></g>
<g id="n-roth"><circle class="nr" cx="188" cy="405" r="8"/><text x="187" y="410" font-size="14" textLength="100" lengthAdjust="spacingAndGlyphs">Roth, Bryan L</text></g>
<g id="n-huang"><circle class="nr" cx="209" cy="439" r="7"/><text x="210" y="444" font-size="14" textLength="106" lengthAdjust="spacingAndGlyphs">Huang, Xi-Ping</text></g>
<g id="n-han"><circle class="ny" cx="307" cy="375" r="18"/><text x="306" y="379" font-size="20" textLength="142" lengthAdjust="spacingAndGlyphs">Han, Gye Won</text></g>
<g id="n-shaye"><circle class="nc" cx="381" cy="430" r="10"/><text x="381" y="434" font-size="16" textLength="147" lengthAdjust="spacingAndGlyphs">Shaye, Hamidreza</text></g>
<g id="n-kufareva"><circle class="ny" cx="288" cy="524" r="6"/><text x="288" y="529" font-size="13.5" textLength="105" lengthAdjust="spacingAndGlyphs">Kufareva, Irina</text></g>
<g id="n-handel"><circle class="ny" cx="309" cy="549" r="7"/><text x="309" y="553" font-size="14" textLength="146" lengthAdjust="spacingAndGlyphs">Handel, Tracy Marie</text></g>
<g id="n-abagyan"><circle class="ny" cx="283" cy="567" r="7"/><text x="283" y="572" font-size="14" textLength="132" lengthAdjust="spacingAndGlyphs">Abagyan, Ruben A</text></g>
<g id="n-popov"><circle class="nb" cx="410" cy="307" r="7"/><text x="410" y="310" font-size="14" textLength="100" lengthAdjust="spacingAndGlyphs">Popov, Petr A</text></g>
<g id="n-kovalev"><circle class="nb" cx="552" cy="340" r="6"/><text x="550" y="342" font-size="14" textLength="114" lengthAdjust="spacingAndGlyphs">Kovalev, Kirill V</text></g>
<g id="n-gordeliy"><circle class="nb" cx="629" cy="235" r="12"/><text x="629" y="239" font-size="17" textLength="161" lengthAdjust="spacingAndGlyphs">Gordeliy, Valentin I</text></g>
<g id="n-borshchevskiy"><circle class="nb" cx="693" cy="275" r="17"/><text x="693" y="280" font-size="19" textLength="240" lengthAdjust="spacingAndGlyphs">Borshchevskiy, Valentin I</text></g>
<g id="n-mishin-alexey"><circle class="nb" cx="692" cy="318" r="17"/><text x="692" y="323" font-size="19" textLength="159" lengthAdjust="spacingAndGlyphs">Mishin, Alexey V</text></g>
<g id="n-shevtsov"><circle class="nb" cx="668" cy="376" r="7"/><text x="668" y="380" font-size="14.5" textLength="147" lengthAdjust="spacingAndGlyphs">Shevtsov, Mikhail B</text></g>
<g id="n-gerasimov"><circle class="ng" cx="723" cy="172" r="6"/><text x="725" y="174" font-size="14" textLength="145" lengthAdjust="spacingAndGlyphs">Gerasimov, Andrey S</text></g>
<g id="n-bogorodskiy"><circle class="ng" cx="812" cy="218" r="8"/><text x="811" y="222" font-size="15" textLength="175" lengthAdjust="spacingAndGlyphs">Bogorodskiy, Andrey O</text></g>
<g id="n-mishin-alexander"><circle class="ng" cx="943" cy="238" r="5"/><text x="945" y="241" font-size="13.5" textLength="135" lengthAdjust="spacingAndGlyphs">Mishin, Alexander S</text></g>
<g id="n-permyakov"><circle class="ng" cx="958" cy="280" r="5"/><text x="958" y="282" font-size="13.5" textLength="137" lengthAdjust="spacingAndGlyphs">Permyakov, Sergei E</text></g>
<g id="n-zernii"><circle class="ng" cx="884" cy="296" r="5"/><text x="884" y="300" font-size="13" textLength="112" lengthAdjust="spacingAndGlyphs">Zernii, Evgeni Yu</text></g>
<g id="n-krasnova"><circle class="ng" cx="951" cy="322" r="5"/><text x="950" y="326" font-size="13.5" textLength="144" lengthAdjust="spacingAndGlyphs">Krasnova, Svetlana A</text></g>
<g id="n-maslov"><circle class="ng" cx="807" cy="340" r="12"/><text x="807" y="343" font-size="16" textLength="218" lengthAdjust="spacingAndGlyphs">Maslov, Ivan Vladimirovich</text></g>
<g id="n-ivanovich"><circle class="ng" cx="868" cy="378" r="7"/><text x="868" y="381" font-size="14" textLength="138" lengthAdjust="spacingAndGlyphs">Ivanovich, Valentin</text></g>
<g id="n-dashevskii"><circle class="ng" cx="727" cy="407" r="5"/><text x="726" y="408" font-size="14" textLength="145" lengthAdjust="spacingAndGlyphs">Dashevskii, Dmitrii E</text></g>
<g id="n-bestsennaia"><circle class="ng" cx="770" cy="432" r="5"/><text x="770" y="434" font-size="13.5" textLength="154" lengthAdjust="spacingAndGlyphs">Bestsennaia, Ekaterina</text></g>
</svg>
